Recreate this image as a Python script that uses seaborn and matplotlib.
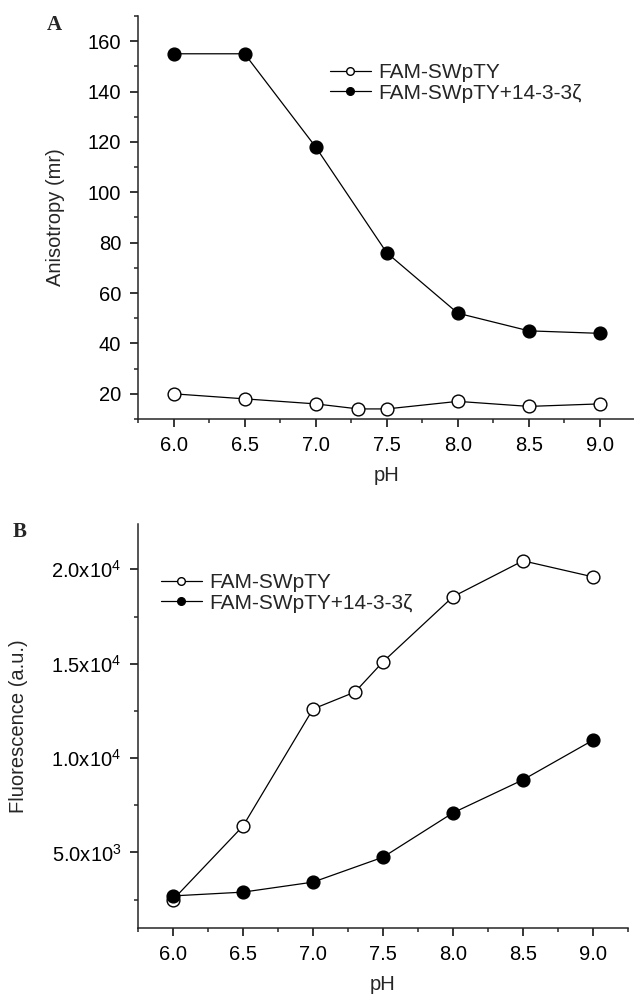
import numpy as np
import pandas as pd
import matplotlib
matplotlib.use("Agg")
import matplotlib.pyplot as plt
import seaborn as sns
from matplotlib.ticker import MultipleLocator, FixedLocator

# =========================
# DATA
# =========================
ph_free = [6.0, 6.5, 7.0, 7.3, 7.5, 8.0, 8.5, 9.0]
ph_bound = [6.0, 6.5, 7.0, 7.5, 8.0, 8.5, 9.0]

aniso_free = [20, 18, 16, 14, 14, 17, 15, 16]
aniso_bound = [155, 155, 118, 76, 52, 45, 44]

fluor_free = [2500, 6400, 12600, 13500, 15100, 18550, 20450, 19600]
fluor_bound = [2700, 2900, 3430, 4750, 7100, 8850, 10950]

label_free = "FAM-SWpTY"
label_bound = "FAM-SWpTY+14-3-3ζ"

x_ticks = [6.0, 6.5, 7.0, 7.5, 8.0, 8.5, 9.0]
a_yticks = [20, 40, 60, 80, 100, 120, 140, 160]
b_yticks = [5000, 10000, 15000, 20000]
b_yticklabels = ["5.0x10$^{3}$", "1.0x10$^{4}$", "1.5x10$^{4}$", "2.0x10$^{4}$"]

# =========================
# STYLE
# =========================
sns.set_style("ticks")
plt.rcParams["font.family"] = ["Liberation Sans", "DejaVu Sans"]
plt.rcParams["mathtext.default"] = "regular"
plt.rcParams["axes.linewidth"] = 1.1

FS = 14.5
W, H = 634, 1001


def draw_series(ax, x, y, label, face):
    df = pd.DataFrame({"pH": x, "val": y})
    sns.lineplot(
        data=df, x="pH", y="val", ax=ax, color="black", linewidth=0.9,
        marker="o", markersize=9.2, markerfacecolor=face,
        markeredgecolor="black", markeredgewidth=1, label=label,
    )


def style_axes(ax):
    sns.despine(ax=ax)
    ax.set_xlim(5.75, 9.25)
    ax.xaxis.set_major_locator(FixedLocator(x_ticks))
    ax.xaxis.set_minor_locator(MultipleLocator(0.25))
    ax.set_xticklabels([f"{t:.1f}" for t in x_ticks])
    ax.tick_params(which="major", direction="out", length=6, width=1.1,
                   labelsize=FS, colors="black", pad=6)
    ax.tick_params(which="minor", direction="out", length=3, width=1.1)
    ax.set_xlabel("pH", fontsize=FS, labelpad=8)


def fix_legend(ax, px, py):
    leg = ax.legend(loc="upper left", bbox_to_anchor=(px / W, 1 - py / H),
                    bbox_transform=ax.figure.transFigure, frameon=False,
                    fontsize=15, handlelength=1.95, handletextpad=0.38,
                    labelspacing=0.08, borderaxespad=0, borderpad=0)
    for h in leg.legend_handles:
        h.set_markersize(5.5)


fig = plt.figure(figsize=(W / 100, H / 100), dpi=100)

# =========================
# PANEL A
# =========================
ax_a = fig.add_axes([138 / W, 1 - 419 / H, 497.5 / W, 403 / H])
draw_series(ax_a, ph_free, aniso_free, label_free, "white")
draw_series(ax_a, ph_bound, aniso_bound, label_bound, "black")
style_axes(ax_a)
ax_a.set_ylim(10, 170)
ax_a.yaxis.set_major_locator(FixedLocator(a_yticks))
ax_a.yaxis.set_minor_locator(MultipleLocator(10))
ax_a.set_ylabel("Anisotropy (mr)", fontsize=FS)
ax_a.yaxis.set_label_coords(-0.147, 0.5)
fix_legend(ax_a, 330, 63)
fig.text(47 / W, 1 - 25 / H, "A", fontsize=15, fontweight="bold",
         family="Liberation Serif", va="center")

# =========================
# PANEL B
# =========================
ax_b = fig.add_axes([138 / W, 1 - 928 / H, 490 / W, 404 / H])
draw_series(ax_b, ph_free, fluor_free, label_free, "white")
draw_series(ax_b, ph_bound, fluor_bound, label_bound, "black")
style_axes(ax_b)
ax_b.set_ylim(1000, 22400)
ax_b.yaxis.set_major_locator(FixedLocator(b_yticks))
ax_b.set_yticklabels(b_yticklabels)
ax_b.yaxis.set_minor_locator(MultipleLocator(2500))
ax_b.set_ylabel("Fluorescence (a.u.)", fontsize=FS)
ax_b.yaxis.set_label_coords(-0.224, 0.5)
fix_legend(ax_b, 161, 573)
fig.text(13 / W, 1 - 532 / H, "B", fontsize=15, fontweight="bold",
         family="Liberation Serif", va="center")

plt.savefig("out.png", dpi=100)
plt.close()
